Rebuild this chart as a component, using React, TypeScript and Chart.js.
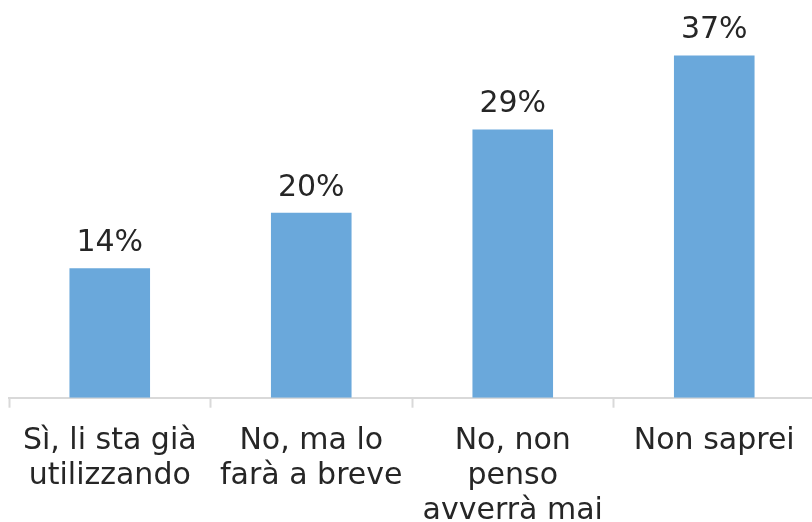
import React, { useEffect, useRef } from "react";
import { Chart, registerables } from "chart.js";

Chart.register(...registerables);

const categories: string[][] = [
  ["Sì, li sta già", "utilizzando"],
  ["No, ma lo", "farà a breve"],
  ["No, non", "penso", "avverrà mai"],
  ["Non saprei"],
];
const values: number[] = [14, 20, 29, 37];
const valueLabels: string[] = ["14%", "20%", "29%", "37%"];

const FONT = "'DejaVu Sans', Verdana, sans-serif";
const TEXT = "#262626";
const BAR = "#6AA8DB";

const labelPlugin = {
  id: "valueLabels",
  afterDatasetsDraw(chart: any) {
    const ctx = chart.ctx;
    const meta = chart.getDatasetMeta(0);
    ctx.save();
    ctx.font = `30px ${FONT}`;
    ctx.fillStyle = TEXT;
    ctx.textAlign = "center";
    ctx.textBaseline = "alphabetic";
    meta.data.forEach((bar: any, i: number) => {
      ctx.fillText(valueLabels[i], bar.x, bar.y - 17);
    });
    ctx.restore();
  },
};

export default function App() {
  const ref = useRef<HTMLCanvasElement | null>(null);
  useEffect(() => {
    if (!ref.current) return;
    const chart = new Chart(ref.current, {
      type: "bar",
      data: {
        labels: categories,
        datasets: [
          {
            data: values,
            backgroundColor: BAR,
            borderWidth: 0,
            categoryPercentage: 1,
            barPercentage: 0.4,
          },
        ],
      },
      options: {
        animation: false,
        responsive: false,
        maintainAspectRatio: false,
        layout: { padding: { left: 9, right: 1, top: 0, bottom: 0 } },
        plugins: { legend: { display: false }, tooltip: { enabled: false } },
        scales: {
          x: {
            grid: {
              display: true,
              drawOnChartArea: false,
              drawTicks: true,
              tickLength: 10,
              tickWidth: 2,
              tickColor: "#D9D9D9",
              offset: true,
            },
            border: { display: true, color: "#D9D9D9", width: 2 },
            ticks: {
              color: TEXT,
              font: { family: FONT, size: 30, lineHeight: 1.17 },
              padding: 15.5,
              maxRotation: 0,
              autoSkip: false,
            },
          },
          y: {
            display: false,
            min: 0,
            max: 43,
          },
        },
      },
      plugins: [labelPlugin],
    });
    return () => chart.destroy();
  }, []);
  return (
    <div
      style={{
        position: "fixed",
        left: 0,
        top: 0,
        width: 812,
        height: 522,
        overflow: "hidden",
        background: "#fff",
      }}
    >
      <canvas ref={ref} width={816} height={544} style={{ display: "block" }} />
    </div>
  );
}
